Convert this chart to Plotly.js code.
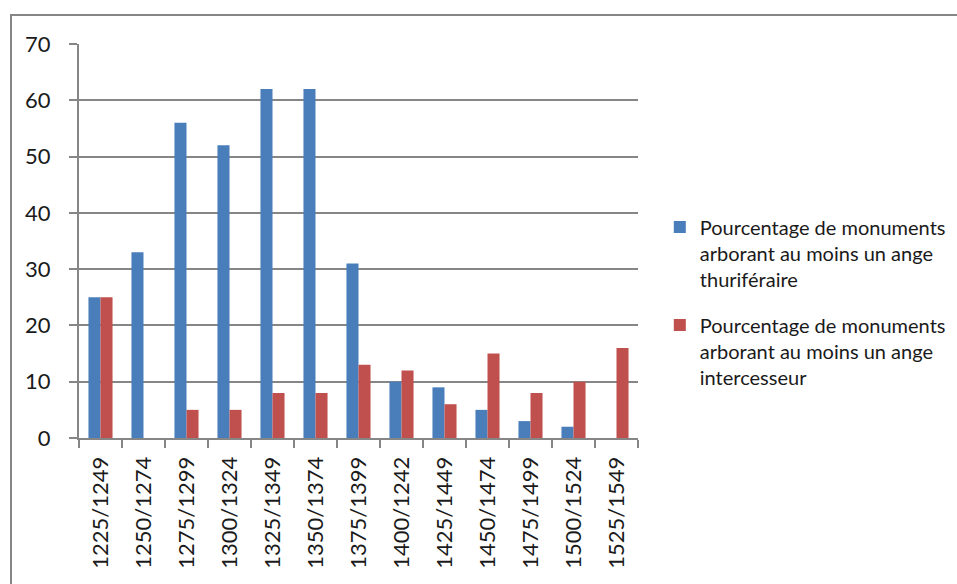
<!DOCTYPE html>
<html>
<head>
<meta charset="utf-8">
<script src="https://cdn.plot.ly/plotly-3.0.1.min.js"></script>
<style>
html,body{margin:0;padding:0;background:#fff;}
#wrap{position:relative;width:957px;height:584px;overflow:hidden;}
#frame{position:absolute;left:10px;top:14px;width:1000px;height:700px;border-top:2px solid #868686;border-left:2px solid #868686;pointer-events:none;}
#chart{position:absolute;left:0;top:0;width:957px;height:584px;}
</style>
</head>
<body>
<div id="wrap">
<div id="chart"></div>
<div id="frame"></div>
</div>
<script>
const categories = ["1225/1249","1250/1274","1275/1299","1300/1324","1325/1349","1350/1374","1375/1399","1400/1242","1425/1449","1450/1474","1475/1499","1500/1524","1525/1549"];
const thuriferaire = [25, 33, 56, 52, 62, 62, 31, 10, 9, 5, 3, 2, 0];
const intercesseur = [25, 0, 5, 5, 8, 8, 13, 12, 6, 15, 8, 10, 16];
const seriesNames = [
  "Pourcentage de monuments<br>arborant au moins un ange<br>thuriféraire",
  "Pourcentage de monuments<br>arborant au moins un ange<br>intercesseur"
];

const font = "Lato, 'Open Sans', sans-serif";
const traces = [
  {type:"bar", x:categories, y:thuriferaire, name:seriesNames[0], legendgroup:"a",
   marker:{color:"#4A7EBB", line:{width:0}}},
  {type:"bar", x:categories, y:intercesseur, name:seriesNames[1], legendgroup:"b",
   marker:{color:"#C0504D", line:{width:0}}}
];

const layout = {
  width:957, height:584,
  margin:{l:79, r:319, t:44, b:146, pad:0, autoexpand:false},
  paper_bgcolor:"#fff", plot_bgcolor:"#fff",
  font:{family:font, color:"#1a1a1a"},
  barmode:"group", bargap:0.44, bargroupgap:0,
  showlegend:true,
  legend:{x:1.039, xanchor:"left", y:0.585, yanchor:"top", valign:"top",
          font:{family:font, size:20, color:"#1a1a1a"},
          tracegroupgap:17, itemsizing:"constant", bgcolor:"rgba(0,0,0,0)"},
  xaxis:{type:"category", tickangle:-90, tickfont:{family:font, size:22, color:"#1a1a1a"},
         showline:true, linecolor:"#868686", linewidth:2,
         ticks:"outside", tickson:"boundaries", ticklen:8, tickcolor:"#868686", tickwidth:2,
         ticklabelstandoff:8, showgrid:false, zeroline:false, fixedrange:true},
  yaxis:{range:[0,70], dtick:10, tick0:0, tickfont:{family:font, size:22, color:"#1a1a1a"},
         showline:true, linecolor:"#868686", linewidth:2,
         ticks:"outside", ticklen:8, tickcolor:"#868686", tickwidth:2,
         ticklabelstandoff:14,
         showgrid:true, gridcolor:"#868686", gridwidth:2, zeroline:false, fixedrange:true}
};

Plotly.newPlot("chart", traces, layout, {displayModeBar:false, staticPlot:true});
</script>
</body>
</html>
